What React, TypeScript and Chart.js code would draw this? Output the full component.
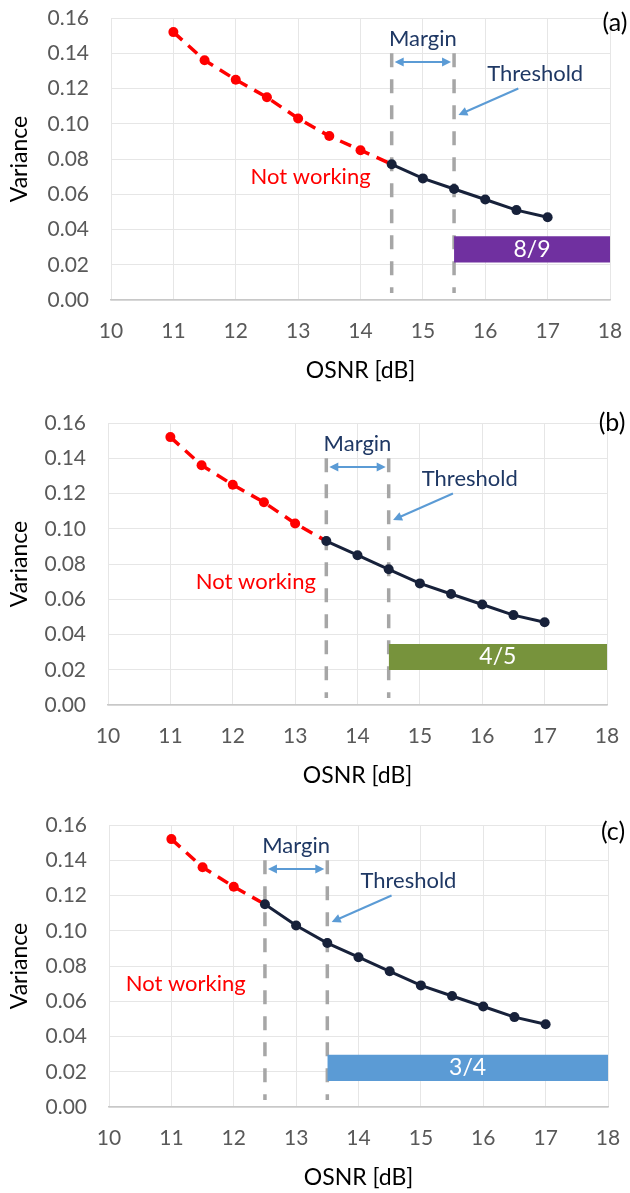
import React, { useEffect, useRef } from "react";
import { Chart, registerables } from "chart.js";

Chart.register(...registerables);

// ---------- data ----------
const osnr = [11, 11.5, 12, 12.5, 13, 13.5, 14, 14.5, 15, 15.5, 16, 16.5, 17];
const variance = [0.152, 0.136, 0.125, 0.115, 0.103, 0.093, 0.085, 0.077, 0.069, 0.063, 0.057, 0.051, 0.047];
const xTickValues = [10, 11, 12, 13, 14, 15, 16, 17, 18];
const yTickValues = [0, 0.02, 0.04, 0.06, 0.08, 0.1, 0.12, 0.14, 0.16];
const panelTags = ["(a)", "(b)", "(c)"];
const workingStart = [14.5, 13.5, 12.5];
const thresholds = [15.5, 14.5, 13.5];
const rateLabels = ["8/9", "4/5", "3/4"];
const rateLow = [0.0213, 0.0199, 0.0148];
const rateHigh = [0.0362, 0.0346, 0.0296];
const rateEnd = 18;
const guideTop = 0.14;
const guideBottom = 0.004;

// ---------- annotation layout (data coordinates) ----------
const notWorkingX = [13.2, 12.37, 11.23];
const notWorkingY = 0.07;
const marginTextY = 0.148;
const marginArrowY = 0.135;
const thresholdTextDx = 1.3;
const thresholdTextY = 0.128;
const thresholdTailDx = 1.03;
const thresholdTailY = 0.12;
const thresholdTipDx = 0.07;
const thresholdTipY = 0.105;

// ---------- styles / page layout ----------
const rateColors = ["#7030A0", "#77933C", "#5B9BD5"];
const RED = "#FF0000";
const NAVY = "#17213A";
const GUIDE = "#A6A6A6";
const ARROW = "#5B9BD5";
const NOTE = "#1F3864";
const FONT = "Lato, 'Open Sans', sans-serif";
const panelTop = [0, 405, 807];
const panelHeight = [405, 402, 386];
const plotLeft = [111, 108, 109];
const plotRight = [610, 607, 608];
const tagDy = [5, 0, 7];
const PLOT_TOP = 18;
const PLOT_H = 282;

function drawHead(ctx: CanvasRenderingContext2D, fx: number, fy: number, tx: number, ty: number) {
  const a = Math.atan2(ty - fy, tx - fx);
  const len = 9;
  const half = 4.5;
  ctx.beginPath();
  ctx.moveTo(tx, ty);
  ctx.lineTo(tx - len * Math.cos(a) + half * Math.sin(a), ty - len * Math.sin(a) - half * Math.cos(a));
  ctx.lineTo(tx - len * Math.cos(a) - half * Math.sin(a), ty - len * Math.sin(a) + half * Math.cos(a));
  ctx.closePath();
  ctx.fill();
}

function Panel({ idx }: { idx: number }) {
  const ref = useRef<HTMLCanvasElement>(null);
  useEffect(() => {
    const canvas = ref.current!;
    const H = panelHeight[idx];
    const W = 630;
    const ws = workingStart[idx];
    const thr = thresholds[idx];
    const pts = osnr.map((x, i) => ({ x, y: variance[i] }));
    const redPts = pts.filter((p) => p.x <= ws);
    const blackPts = pts.filter((p) => p.x >= ws);

    const annot = {
      id: "annot" + idx,
      afterDatasetsDraw(chart: any) {
        const { ctx, scales, chartArea } = chart;
        const xs = scales.x;
        const ys = scales.y;
        const px = (v: number) => xs.getPixelForValue(v);
        const py = (v: number) => ys.getPixelForValue(v);
        ctx.save();
        // margin double arrow
        ctx.strokeStyle = ARROW;
        ctx.fillStyle = ARROW;
        ctx.lineWidth = 2;
        const ay = py(marginArrowY);
        const ax1 = px(ws) + 3;
        const ax2 = px(thr) - 3;
        ctx.beginPath();
        ctx.moveTo(ax1 + 6, ay);
        ctx.lineTo(ax2 - 6, ay);
        ctx.stroke();
        drawHead(ctx, ax2, ay, ax1, ay);
        drawHead(ctx, ax1, ay, ax2, ay);
        // threshold arrow
        const tx0 = px(thr + thresholdTailDx);
        const ty0 = py(thresholdTailY);
        const tx1 = px(thr + thresholdTipDx);
        const ty1 = py(thresholdTipY);
        const a = Math.atan2(ty1 - ty0, tx1 - tx0);
        ctx.beginPath();
        ctx.moveTo(tx0, ty0);
        ctx.lineTo(tx1 - 6 * Math.cos(a), ty1 - 6 * Math.sin(a));
        ctx.stroke();
        drawHead(ctx, tx0, ty0, tx1, ty1);

        ctx.textAlign = "center";
        ctx.textBaseline = "middle";
        ctx.font = `22px ${FONT}`;
        ctx.fillStyle = NOTE;
        ctx.fillText("Margin", px((ws + thr) / 2), py(marginTextY));
        ctx.fillText("Threshold", px(thr + thresholdTextDx), py(thresholdTextY));
        ctx.fillStyle = RED;
        ctx.fillText("Not working", px(notWorkingX[idx]), py(notWorkingY));
        ctx.fillStyle = "#FFFFFF";
        ctx.font = `23px ${FONT}`;
        ctx.fillText(rateLabels[idx], px((thr + rateEnd) / 2), py((rateLow[idx] + rateHigh[idx]) / 2));
        ctx.fillStyle = "#000000";
        ctx.font = `25px ${FONT}`;
        ctx.fillText(panelTags[idx], chartArea.right + 5, chartArea.top + tagDy[idx]);
        ctx.restore();
      },
    };

    const titleFont = 23;
    const titleLH = titleFont * 1.2;
    const xScaleH = H - (PLOT_TOP + PLOT_H);

    const chart = new Chart(canvas, {
      type: "line",
      data: {
        datasets: [
          {
            data: blackPts,
            borderColor: NAVY,
            borderWidth: 3,
            pointRadius: 5,
            pointBackgroundColor: NAVY,
            pointBorderWidth: 0,
            order: 0,
          },
          {
            data: redPts,
            borderColor: RED,
            borderWidth: 3.5,
            borderDash: [12, 8],
            pointRadius: redPts.map((p) => (p.x === ws ? 0 : 5)),
            pointBackgroundColor: RED,
            pointBorderWidth: 0,
            order: 1,
          },
          {
            data: [{ x: ws, y: guideTop }, { x: ws, y: guideBottom }],
            borderColor: GUIDE,
            borderWidth: 3.5,
            borderDash: [14, 12],
            pointRadius: 0,
            order: 3,
          },
          {
            data: [{ x: thr, y: guideTop }, { x: thr, y: guideBottom }],
            borderColor: GUIDE,
            borderWidth: 3.5,
            borderDash: [14, 12],
            pointRadius: 0,
            order: 3,
          },
          {
            data: [{ x: thr, y: rateHigh[idx] }, { x: rateEnd, y: rateHigh[idx] }],
            borderColor: "rgba(0,0,0,0)",
            borderWidth: 1,
            pointRadius: 0,
            fill: "+1",
            backgroundColor: rateColors[idx],
            order: 2,
          },
          {
            data: [{ x: thr, y: rateLow[idx] }, { x: rateEnd, y: rateLow[idx] }],
            borderColor: "rgba(0,0,0,0)",
            borderWidth: 1,
            pointRadius: 0,
            fill: false,
            order: 2,
          },
        ] as any,
      },
      options: {
        animation: false,
        responsive: false,
        devicePixelRatio: 1,
        events: [],
        layout: { padding: { left: 0, right: W - plotRight[idx], top: PLOT_TOP, bottom: 0 } },
        plugins: { legend: { display: false }, tooltip: { enabled: false } },
        scales: {
          x: {
            type: "linear",
            min: 10,
            max: 18,
            afterFit: (s: any) => {
              s.height = xScaleH;
              s.paddingLeft = 0;
              s.paddingRight = 0;
              s.paddingTop = 0;
              s.paddingBottom = 0;
            },
            afterBuildTicks: (s: any) => {
              s.ticks = xTickValues.map((v) => ({ value: v }));
            },
            ticks: {
              color: "#595959",
              font: { family: FONT, size: 21 },
              padding: 19,
              maxRotation: 0,
              callback: (v: any) => String(v),
            },
            grid: { color: "#E6E6E6", lineWidth: 1, drawTicks: false },
            border: { color: "#C8C8C8", width: 1.5 },
            title: {
              display: true,
              text: "OSNR [dB]",
              color: "#000000",
              font: { family: FONT, size: titleFont },
              padding: { top: 0, bottom: xScaleH - 71 - titleLH / 2 },
            },
          },
          y: {
            type: "linear",
            min: 0,
            max: 0.16,
            afterFit: (s: any) => {
              s.width = plotLeft[idx];
              s.paddingLeft = 0;
              s.paddingRight = 0;
              s.paddingTop = 0;
              s.paddingBottom = 0;
            },
            afterBuildTicks: (s: any) => {
              s.ticks = yTickValues.map((v) => ({ value: v }));
            },
            ticks: {
              color: "#595959",
              font: { family: FONT, size: 21 },
              padding: 22,
              callback: (v: any) => Number(v).toFixed(2),
            },
            grid: { color: "#E6E6E6", lineWidth: 1, drawTicks: false },
            border: { display: false },
            title: {
              display: true,
              text: "Variance",
              color: "#000000",
              font: { family: FONT, size: titleFont },
              padding: { top: 20 - titleLH / 2, bottom: 0 },
            },
          },
        },
      },
      plugins: [annot],
    } as any);
    return () => chart.destroy();
  }, [idx]);

  return (
    <canvas
      ref={ref}
      width={630}
      height={panelHeight[idx]}
      style={{ position: "absolute", left: 0, top: panelTop[idx], width: 630, height: panelHeight[idx] }}
    />
  );
}

export default function App() {
  return (
    <div
      style={{
        position: "absolute",
        left: 0,
        top: 0,
        width: 630,
        height: 1193,
        overflow: "hidden",
        background: "#FFFFFF",
      }}
    >
      {[0, 1, 2].map((i) => (
        <Panel key={i} idx={i} />
      ))}
    </div>
  );
}
